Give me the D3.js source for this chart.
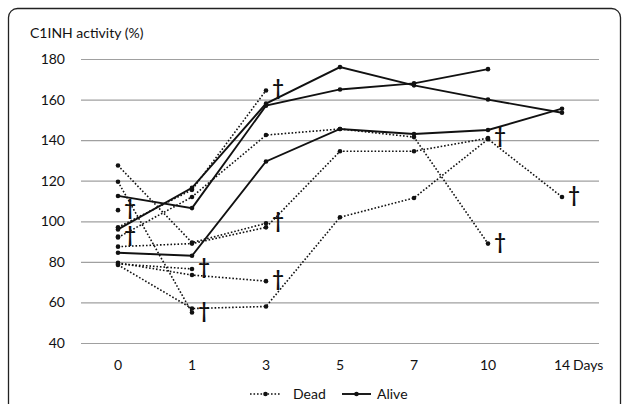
<!DOCTYPE html>
<html>
<head>
<meta charset="utf-8">
<script src="https://cdn.jsdelivr.net/npm/d3@7"></script>
<style>
  body { margin: 0; background: #fff; }
  text { font-family: Lato, "Liberation Sans", sans-serif; fill: #111; }
</style>
</head>
<body>
<script>
// C1INH activity by day, one line per patient

var days = ["0", "1", "3", "5", "7", "10", "14"];
var yTicks = [40, 60, 80, 100, 120, 140, 160, 180];

// alive patients (solid lines)
var alive1 = [96, 116.5, 158, 176, 167, 160, 153.5];
var alive2 = [112.5, 106.5, 157, 165, 168, 175, null];
var alive3 = [84.5, 83, 129.5, 145.5, 143, 145, 155.5];

// dead patients (dotted lines), last value is where the dagger goes
var dead1 = [105.5, null, null, null, null, null, null];
var dead2 = [92.5, null, null, null, null, null, null];
var dead3 = [79, 76.5, null, null, null, null, null];
var dead4 = [79.5, 73.5, 70.5, null, null, null, null];
var dead5 = [119.5, 55, null, null, null, null, null];
var dead6 = [78.5, 57, 58, 102, 111.5, 140.5, 112];
var dead7 = [127.5, 89.5, 99, null, null, null, null];
var dead8 = [87.5, 89, 97, 134.5, 134.5, 141, null];
var dead9 = [97, 115.5, 164.5, null, null, null, null];
var dead10 = [92, 112, 142.5, 145.5, 141.5, 89, null];

var aliveSeries = [alive1, alive2, alive3];
var deadSeries = [dead1, dead2, dead3, dead4, dead5, dead6, dead7, dead8, dead9, dead10];

var width = 629;
var height = 404;

var svg = d3.select("body")
            .append("svg")
            .attr("width", width)
            .attr("height", height);

// rounded frame round the chart
svg.append("rect")
   .attr("x", 8.5)
   .attr("y", 8.5)
   .attr("width", 612)
   .attr("height", 440)
   .attr("rx", 9)
   .attr("fill", "none")
   .attr("stroke", "#222")
   .attr("stroke-width", 1.3);

var x = d3.scaleBand()
          .domain(days)
          .range([81, 599])
          .padding(0);

var y = d3.scaleLinear()
          .domain([40, 180])
          .range([343, 59]);

function cx(i) { return x(days[i]) + x.bandwidth() / 2; }

// y axis with gridlines
var yAxis = d3.axisLeft(y)
              .tickValues(yTicks)
              .tickSize(-(599 - 81))
              .tickPadding(16);

var gy = svg.append("g")
            .attr("transform", "translate(81,0)")
            .call(yAxis);
gy.select(".domain").remove();
gy.selectAll(".tick line").attr("stroke", "#a0a0a0").attr("stroke-width", 1.2);
gy.selectAll(".tick text").attr("font-size", 14).attr("font-family", "Lato, sans-serif").attr("fill", "#111");

// x axis labels only
var xAxis = d3.axisBottom(x)
              .tickSize(0)
              .tickPadding(17);

var gx = svg.append("g")
            .attr("transform", "translate(0,343)")
            .call(xAxis);
gx.select(".domain").remove();
gx.selectAll(".tick text").attr("font-size", 14).attr("font-family", "Lato, sans-serif").attr("fill", "#111");

svg.append("text")
   .attr("x", cx(6) + 11)
   .attr("y", 343 + 17)
   .attr("dy", "0.71em")
   .attr("font-size", 14)
   .text("Days");

svg.append("text")
   .attr("x", 30)
   .attr("y", 38)
   .attr("font-size", 14)
   .text("C1INH activity (%)");

var line = d3.line()
             .defined(function(d) { return d != null; })
             .x(function(d, i) { return cx(i); })
             .y(function(d) { return y(d); });

function drawSeries(list, dashed) {
  list.forEach(function(vals) {
    svg.append("path")
       .datum(vals)
       .attr("d", line)
       .attr("fill", "none")
       .attr("stroke", "#111")
       .attr("stroke-width", dashed ? 1.6 : 1.9)
       .attr("stroke-dasharray", dashed ? "1.6,1.9" : null);

    var pts = vals.map(function(v, i) { return {v: v, i: i}; })
                  .filter(function(p) { return p.v != null; });
    svg.selectAll(null)
       .data(pts)
       .enter()
         .append("circle")
         .attr("cx", function(p) { return cx(p.i); })
         .attr("cy", function(p) { return y(p.v); })
         .attr("r", 2.3)
         .attr("fill", "#111");
  });
}

drawSeries(deadSeries, true);
drawSeries(aliveSeries, false);

// dagger after the last point of each dead patient
deadSeries.forEach(function(vals) {
  var last = 0;
  vals.forEach(function(v, i) { if (v != null) last = i; });
  svg.append("text")
     .attr("x", cx(last) + 12)
     .attr("y", y(vals[last]) + 5)
     .attr("text-anchor", "middle")
     .attr("font-family", "DejaVu Sans, sans-serif")
     .attr("font-weight", "bold")
     .attr("font-size", 20)
     .text("\u2020");
});

// legend
var lg = svg.append("g").attr("transform", "translate(0,394)");
lg.append("line").attr("x1", 250).attr("x2", 281).attr("y1", 0).attr("y2", 0)
  .attr("stroke", "#111").attr("stroke-width", 1.6).attr("stroke-dasharray", "1.6,1.9");
lg.append("circle").attr("cx", 265.5).attr("cy", 0).attr("r", 2.3).attr("fill", "#111");
lg.append("text").attr("x", 293).attr("y", 5).attr("font-size", 14).text("Dead");
lg.append("line").attr("x1", 342).attr("x2", 371).attr("y1", 0).attr("y2", 0)
  .attr("stroke", "#111").attr("stroke-width", 1.9);
lg.append("circle").attr("cx", 356.5).attr("cy", 0).attr("r", 2.3).attr("fill", "#111");
lg.append("text").attr("x", 377).attr("y", 5).attr("font-size", 14).text("Alive");
</script>
</body>
</html>
